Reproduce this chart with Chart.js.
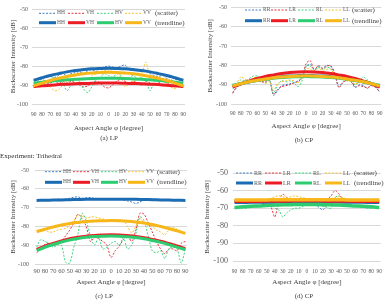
<!DOCTYPE html>
<html><head><meta charset="utf-8">
<script src="https://cdn.jsdelivr.net/npm/chart.js@4/dist/chart.umd.min.js"></script>
<style>
html,body{margin:0;padding:0;background:#fff;width:389px;height:307px;overflow:hidden;position:relative;}
.panel{position:absolute;}
.txt{position:absolute;white-space:nowrap;color:#404040;font-family:"Liberation Serif",serif;line-height:1;}
svg{position:absolute;left:0;top:0;}
</style></head><body>
<script>
// ---------- categories / ticks ----------
const anglesFine = [-90,-85,-80,-75,-70,-65,-60,-55,-50,-45,-40,-35,-30,-25,-20,-15,-10,-5,0,5,10,15,20,25,30,35,40,45,50,55,60,65,70,75,80,85,90];
const anglesTrend = [-90,-80,-70,-60,-50,-40,-30,-20,-10,0,10,20,30,40,50,60,70,80,90];
const tickValues = [-90,-80,-70,-60,-50,-40,-30,-20,-10,0,10,20,30,40,50,60,70,80,90];
const tickLabels = ['90','80','70','60','50','40','30','20','10','0','10','20','30','40','50','60','70','80','90'];
const lpNames = ['HH','VH','HV','VV'];
const cpNames = ['RR','LR','RL','LL'];

// ---------- (a) LP ----------
const aHH = [-87.5,-87,-86.5,-86,-85.5,-86,-85,-84,-85,-84,-83.5,-83,-84,-82.5,-82,-83,-81.5,-80.5,-80,-80.5,-81,-80,-79.5,-82,-82.5,-82,-83,-82.5,-84,-85,-85.5,-85,-86.5,-86,-87,-87.5,-88];
const aVH = [-91,-90,-89,-89.5,-89,-88,-89,-88,-89,-88,-89,-90,-91,-90.5,-89,-88,-89,-91,-91.5,-90,-88,-87,-88,-89,-88,-89,-90,-88,-89,-90,-89,-88,-89,-90,-91,-90,-91];
const aHV = [-89,-88,-87,-88,-87,-86,-87,-89,-93,-90,-87,-88,-92,-94,-91,-87,-86,-84,-85,-86,-84,-85,-87,-86,-85,-87,-86,-88,-93,-88,-86,-87,-88,-87,-89,-90,-90];
const aVV = [-91,-90,-89,-90,-91,-93,-92.5,-90,-88,-89,-90,-88,-86,-87,-85,-84,-83,-82.5,-82,-83,-84,-86,-91,-89,-88,-87,-84,-78,-86,-87,-88,-87,-89,-91,-92,-90,-91];
const aHHtrend = [-87.5,-86.2,-85.0,-84.0,-83.1,-82.4,-81.9,-81.5,-81.3,-81.2,-81.3,-81.5,-81.9,-82.4,-83.1,-84.0,-85.0,-86.2,-87.5];
const aVHtrend = [-90.8,-90.4,-90.1,-89.8,-89.55,-89.35,-89.2,-89.1,-89.0,-89.0,-89.0,-89.1,-89.2,-89.35,-89.55,-89.8,-90.1,-90.4,-90.8];
const aHVtrend = [-89.0,-88.5,-88.0,-87.6,-87.3,-87.0,-86.8,-86.6,-86.5,-86.5,-86.5,-86.6,-86.8,-87.0,-87.3,-87.6,-88.0,-88.5,-89.0];
const aVVtrend = [-90.5,-89.0,-87.6,-86.5,-85.5,-84.7,-84.1,-83.7,-83.4,-83.3,-83.4,-83.7,-84.1,-84.7,-85.5,-86.5,-87.6,-89.0,-90.5];

// ---------- (b) CP ----------
const bRR = [-94,-91.5,-89,-89,-88,-88.5,-87.5,-88,-89,-87.5,-95.5,-93,-90.5,-90,-89.5,-89,-88,-86.5,-80.5,-79.5,-82,-80.5,-81.5,-80,-80.5,-84.5,-91,-88.5,-87.5,-88.5,-91.5,-90,-90.5,-92,-90,-91,-94];
const bLR = [-94.5,-91,-89.5,-89,-88.5,-88,-87.5,-88.5,-88.5,-87.5,-95,-92.5,-91,-90.5,-90,-89,-88.5,-86,-79,-77.5,-82.5,-80,-81.5,-80.5,-80,-84,-91.5,-89,-87.5,-88,-91,-90.5,-91,-91.5,-90.5,-91.5,-93.5];
const bRL = [-92,-90,-87.5,-88,-87,-85.5,-85.5,-87,-88,-87.5,-94.5,-90,-88,-88.5,-88,-89,-91,-88,-80,-80.5,-82.5,-81,-82,-81,-81.5,-84.5,-86,-87,-87.5,-88,-90,-88,-86,-87.5,-89,-90,-91];
const bLL = [-91,-89,-86,-87,-88,-86.5,-86,-88,-89.5,-88,-93,-89.5,-88.5,-88,-87.5,-88,-89,-86.5,-81.5,-82,-83,-81.5,-82.5,-82,-82,-85,-86.5,-87,-88,-88.5,-89.5,-89,-87.5,-88,-89,-90,-90.5];
const bRRtrend = [-90.8,-89.6,-88.6,-87.7,-86.9,-86.3,-85.8,-85.5,-85.3,-85.2,-85.3,-85.5,-85.8,-86.3,-86.9,-87.7,-88.6,-89.6,-90.8];
const bLRtrend = [-91.2,-89.5,-88.1,-86.8,-85.7,-84.9,-84.2,-83.7,-83.4,-83.3,-83.4,-83.7,-84.2,-84.9,-85.7,-86.8,-88.1,-89.5,-91.2];
const bRLtrend = [-90.3,-89.4,-88.5,-87.8,-87.2,-86.7,-86.3,-86.0,-85.9,-85.8,-85.9,-86.0,-86.3,-86.7,-87.2,-87.8,-88.5,-89.4,-90.3];
const bLLtrend = [-90.6,-89.5,-88.5,-87.7,-87.0,-86.4,-86.0,-85.7,-85.5,-85.4,-85.5,-85.7,-86.0,-86.4,-87.0,-87.7,-88.5,-89.5,-90.6];

// ---------- (c) LP, trihedral ----------
const cHH = [-66,-66,-66,-65.8,-65.8,-65.5,-65.6,-65.5,-65,-64.5,-64.3,-65,-64.8,-64.6,-65.2,-65.5,-65.3,-65.4,-65.5,-65.6,-65.5,-66,-66.5,-67,-67.8,-67,-66,-65.6,-65.5,-65.7,-65.8,-66,-66,-66,-66.2,-66.2,-66.3];
const cVH = [-94,-92,-89.5,-89,-90,-89,-88,-85,-82,-78,-73.5,-76,-80,-88,-86,-86.5,-88,-90,-96.5,-93,-90.5,-87,-85,-88,-82,-73,-73.5,-78,-83,-88,-92,-94.5,-92,-92,-93,-89,-88];
const cHV = [-91,-87,-88,-89,-91,-90,-90,-99,-99.5,-91,-84,-73,-77,-85,-90,-86,-92,-91,-89,-88,-90,-86,-92,-90,-84,-75,-77,-85,-93,-94,-93,-97,-92,-91,-92,-99.5,-92];
const cVV = [-82,-82.5,-82,-83,-83,-82,-81.5,-81,-79.5,-77,-74,-74.5,-75.5,-75,-75,-75.5,-76,-77,-77.5,-76.5,-76.5,-77,-80,-83.5,-80,-76,-78,-79.5,-80,-82,-83,-84.5,-82,-80.5,-81.5,-82.5,-84];
const cHHtrend = [-66.2,-66.1,-66.0,-65.9,-65.8,-65.7,-65.6,-65.6,-65.5,-65.5,-65.5,-65.6,-65.6,-65.7,-65.8,-65.9,-66.0,-66.1,-66.2];
const cVHtrend = [-92.2,-90.5,-89.0,-87.7,-86.6,-85.8,-85.2,-84.8,-84.6,-84.5,-84.6,-84.9,-85.3,-86.0,-86.9,-87.9,-89.1,-90.4,-91.8];
const cHVtrend = [-92.8,-91.1,-89.6,-88.3,-87.2,-86.4,-85.8,-85.4,-85.2,-85.1,-85.2,-85.5,-85.9,-86.6,-87.5,-88.5,-89.7,-91.0,-92.4];
const cVVtrend = [-82.8,-81.5,-80.3,-79.3,-78.5,-77.9,-77.4,-77.1,-77.0,-76.9,-77.0,-77.2,-77.6,-78.2,-79.0,-80.0,-81.1,-82.4,-83.7];

// ---------- (d) CP, trihedral ----------
const dRR = [-66.5,-66.5,-66.5,-66.5,-66.5,-66.5,-66.5,-67,-67,-67.5,-67,-67,-67,-67,-66.5,-66.5,-66.5,-66.5,-67,-67,-68,-69.5,-71,-68,-67,-66.5,-66,-66,-66,-66.5,-66.5,-66.5,-66.5,-66.5,-66.5,-66.5,-66.5];
const dLR = [-66,-66,-66,-66,-66,-66,-66.5,-67,-68,-69,-75,-66,-62,-64,-65,-66,-66.5,-66.5,-66.5,-66.5,-67,-66.5,-66,-65,-63,-60,-62,-65,-66,-66,-66,-66.5,-66,-66,-66,-66,-66];
const dRL = [-69.5,-69.5,-70,-70,-69.5,-69.5,-69,-69,-68.5,-68,-70,-71,-75,-72.5,-71,-70,-70,-69,-68,-68.5,-68,-68.5,-69,-69.5,-70,-64,-63,-65,-67,-68.5,-69,-69.5,-69.5,-70,-70,-69.5,-69.5];
const dLL = [-65,-65.5,-65.5,-65,-65.5,-65.5,-65,-65,-65,-64.5,-63.5,-63,-63.5,-64,-63.5,-63,-63.5,-64,-64.5,-64.5,-65,-65,-65.5,-65,-64.5,-64,-63.5,-64,-65,-65,-65.5,-65.5,-65,-65,-65.5,-65.5,-65];
const dRRtrend = [-66.6,-66.6,-66.5,-66.5,-66.5,-66.4,-66.4,-66.4,-66.4,-66.4,-66.4,-66.4,-66.4,-66.4,-66.5,-66.5,-66.5,-66.6,-66.6];
const dLRtrend = [-66.1,-66.1,-66.0,-66.0,-65.9,-65.9,-65.9,-65.8,-65.8,-65.8,-65.8,-65.8,-65.9,-65.9,-65.9,-66.0,-66.0,-66.1,-66.1];
const dRLtrend = [-69.6,-69.2,-68.9,-68.7,-68.4,-68.2,-68.1,-68.0,-67.9,-67.9,-67.9,-68.0,-68.1,-68.2,-68.4,-68.7,-68.9,-69.2,-69.6];
const dLLtrend = [-65.4,-65.4,-65.3,-65.3,-65.3,-65.2,-65.2,-65.2,-65.2,-65.2,-65.2,-65.2,-65.2,-65.2,-65.3,-65.3,-65.3,-65.4,-65.4];

// ---------- styles ----------
const scatterColors = ['#3b7cc4','#e8333a','#3fd381','#f5c22f'];
const trendColors = ['#1c6cb3','#ec1c24','#2ecc71','#f7b718'];
const FONT = '"Liberation Serif", serif';

const panels = [
  {x:0, y:0, w:195, h:150, left:32, right:185, top:9, bottom:104, yStep:5, yTick:6, xTick:5.5, yPad:4, xPad:7, yTitleX:13, xTitleY:128, tw:3,
   names:lpNames, scatter:[aHH,aVH,aHV,aVV], trend:[aHHtrend,aVHtrend,aHVtrend,aVVtrend],
   lg:{xs:[39,68,97,125], w:17, rows:[13.3,22.7], tagX:155, ls:5.5}, cap:'(a) LP', capX:109, capY:138},
  {x:195, y:0, w:194, h:150, left:36, right:189, top:7, bottom:104, yStep:5, yTick:6, xTick:5.5, yPad:4, xPad:6.5, yTitleX:15, xTitleY:126, tw:3,
   names:cpNames, scatter:[bRR,bLR,bRL,bLL], trend:[bRRtrend,bLRtrend,bRLtrend,bLLtrend],
   lg:{xs:[245,271,298,325], w:17, rows:[10,20.7], tagX:352, ls:5.5}, cap:'(b)  CP', capX:304, capY:140},
  {x:0, y:150, w:195, h:157, left:35, right:187, top:20, bottom:114, yStep:5, yTick:6, xTick:6.5, yPad:6, xPad:3.5, yTitleX:13, xTitleY:132, tw:3,
   names:lpNames, scatter:[cHH,cVH,cHV,cVV], trend:[cHHtrend,cVHtrend,cHVtrend,cVVtrend],
   lg:{xs:[45,73,101,128], w:17, rows:[171.7,182.3], tagX:157, ls:5.5}, cap:'(c) LP', capX:104, capY:296},
  {x:195, y:150, w:194, h:157, left:38, right:190, top:23, bottom:111, yStep:10, yTick:8, xTick:5.5, yPad:5, xPad:7, yTitleX:12, xTitleY:132, tw:3.5,
   names:cpNames, scatter:[dRR,dLR,dRL,dLL], trend:[dRRtrend,dLRtrend,dRLtrend,dLLtrend],
   lg:{xs:[236,265,295,325], w:17, rows:[173,183], tagX:354, ls:6}, cap:'(d)  CP', capX:304, capY:296}
];

function addText(txt, x, y, size, opts) {
  const s = document.createElement('div');
  s.className = 'txt';
  s.textContent = txt;
  s.style.fontSize = size + 'px';
  s.style.left = x + 'px';
  s.style.top = y + 'px';
  if (opts && opts.center) s.style.transform = 'translate(-50%,-50%)';
  else s.style.transform = 'translate(0,-50%)';
  if (opts && opts.color) s.style.color = opts.color;
  document.body.appendChild(s);
}

const svgNS = 'http://www.w3.org/2000/svg';
const svg = document.createElementNS(svgNS, 'svg');
svg.setAttribute('width', 389); svg.setAttribute('height', 307);

function makePanel(p) {
  const div = document.createElement('div');
  div.className = 'panel';
  div.style.left = p.x + 'px'; div.style.top = p.y + 'px';
  div.style.width = p.w + 'px'; div.style.height = p.h + 'px';
  const cv = document.createElement('canvas');
  cv.width = p.w; cv.height = p.h;
  cv.style.width = p.w + 'px'; cv.style.height = p.h + 'px';
  div.appendChild(cv);
  document.body.appendChild(div);

  const datasets = [];
  p.scatter.forEach((arr, i) => datasets.push({
    data: anglesFine.map((a, j) => ({x: a, y: arr[j]})),
    borderColor: scatterColors[i], borderWidth: 1, borderDash: [2, 1.5],
    pointRadius: 0, tension: 0.3, fill: false, order: 20 - i
  }));
  p.trend.forEach((arr, i) => datasets.push({
    data: anglesTrend.map((a, j) => ({x: a, y: arr[j]})),
    borderColor: trendColors[i], borderWidth: p.tw,
    pointRadius: 0, tension: 0.4, fill: false, order: 10 - i
  }));

  const lh = 7 * 1.2;
  new Chart(cv, {
    type: 'line',
    data: {datasets},
    options: {
      responsive: false, animation: false, devicePixelRatio: 1,
      layout: {padding: {left: 0, right: p.w - p.right, top: p.top, bottom: 0}},
      plugins: {legend: {display: false}, tooltip: {enabled: false}},
      scales: {
        x: {
          type: 'linear', min: -92, max: 92,
          afterBuildTicks: s => { s.ticks = tickValues.map(v => ({value: v})); },
          ticks: {callback: (v) => tickLabels[tickValues.indexOf(v)], font: {family: FONT, size: p.xTick},
                  color: '#595959', padding: p.xPad, maxRotation: 0, autoSkip: false},
          grid: {display: false, drawTicks: false},
          border: {display: false},
          title: {display: true, text: 'Aspect Angle φ [degree]', font: {family: FONT, size: 7}, color: '#404040',
                  padding: {top: 0, bottom: p.h - p.xTitleY - lh / 2}},
          afterFit: s => { s.height = p.h - p.bottom; }
        },
        y: {
          min: -100, max: -50,
          ticks: {stepSize: p.yStep, font: {family: FONT, size: p.yTick}, color: '#595959', padding: p.yPad},
          grid: {color: '#d9d9d9', lineWidth: 1, drawTicks: false},
          border: {display: false},
          title: {display: true, text: 'Backscatter Intensity [dB]', font: {family: FONT, size: 7}, color: '#404040',
                  padding: {top: p.yTitleX - lh / 2, bottom: 0}},
          afterFit: s => { s.width = p.left; }
        }
      }
    }
  });

  // legend
  const lg = p.lg;
  p.names.forEach((n, i) => {
    const x0 = lg.xs[i];
    const l1 = document.createElementNS(svgNS, 'line');
    l1.setAttribute('x1', x0); l1.setAttribute('x2', x0 + lg.w);
    l1.setAttribute('y1', lg.rows[0]); l1.setAttribute('y2', lg.rows[0]);
    l1.setAttribute('stroke', scatterColors[i]); l1.setAttribute('stroke-width', 1);
    l1.setAttribute('stroke-dasharray', '2,1.5');
    svg.appendChild(l1);
    const l2 = document.createElementNS(svgNS, 'line');
    l2.setAttribute('x1', x0); l2.setAttribute('x2', x0 + lg.w);
    l2.setAttribute('y1', lg.rows[1]); l2.setAttribute('y2', lg.rows[1]);
    l2.setAttribute('stroke', trendColors[i]); l2.setAttribute('stroke-width', 3);
    svg.appendChild(l2);
    addText(n, x0 + lg.w + 1, lg.rows[0], lg.ls, {color: '#595959'});
    addText(n, x0 + lg.w + 1, lg.rows[1], lg.ls, {color: '#595959'});
  });
  addText('(scatter)', lg.tagX, lg.rows[0], 7);
  addText('(trendline)', lg.tagX, lg.rows[1], 7);
  addText(p.cap, p.capX, p.capY, 7, {center: true});
}

panels.forEach(makePanel);
document.body.appendChild(svg);
addText('Experiment: Trihedral', 0, 156, 7, {color: '#333'});
</script>
</body></html>
